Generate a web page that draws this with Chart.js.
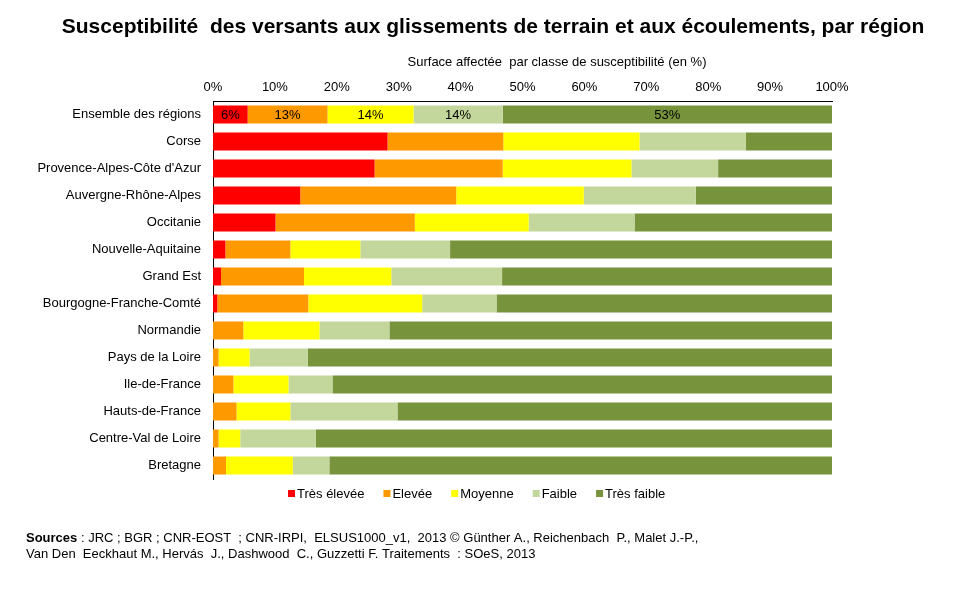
<!DOCTYPE html>
<html>
<head>
<meta charset="utf-8">
<script src="https://cdn.jsdelivr.net/npm/chart.js@4"></script>
<style>
  html, body { margin: 0; padding: 0; background: #fff; }
  #wrap { width: 961px; height: 594px; }
</style>
</head>
<body>
<div id="wrap"><canvas id="chart" width="961" height="594"></canvas></div>
<script>
// Régions (ordre du graphique, de haut en bas)
const regions = [
    'Ensemble des régions', 'Corse', "Provence-Alpes-Côte d'Azur", 'Auvergne-Rhône-Alpes',
    'Occitanie', 'Nouvelle-Aquitaine', 'Grand Est', 'Bourgogne-Franche-Comté', 'Normandie',
    'Pays de la Loire', 'Ile-de-France', 'Hauts-de-France', 'Centre-Val de Loire', 'Bretagne'
];

// Part de la surface par classe de susceptibilité (en %)
const tresElevee = [5.6, 28.2, 26.1, 14.1, 10.1, 2.0, 1.3, 0.7, 0, 0, 0, 0, 0, 0];
const elevee     = [12.9, 18.7, 20.7, 25.2, 22.5, 10.5, 13.4, 14.7, 4.9, 0.9, 3.3, 3.8, 0.9, 2.1];
const moyenne    = [13.9, 22.0, 20.8, 20.6, 18.4, 11.3, 14.1, 18.4, 12.3, 5.0, 8.9, 8.7, 3.5, 10.8];
const faible     = [14.4, 17.2, 14.0, 18.1, 17.1, 14.5, 17.9, 12.0, 11.3, 9.4, 7.1, 17.3, 12.2, 5.9];
const tresFaible = [53.2, 13.9, 18.4, 22.0, 31.9, 61.7, 53.3, 54.2, 71.5, 84.7, 80.7, 70.2, 83.4, 81.2];

const classes = ['Très élevée', 'Elevée', 'Moyenne', 'Faible', 'Très faible'];
const couleurs = ['#FF0000', '#FF9900', '#FFFF00', '#C3D69B', '#77933C'];
const series = [tresElevee, elevee, moyenne, faible, tresFaible];

const FONT = '"Liberation Sans", Arial, sans-serif';

// Titre, légende, sources et étiquettes de la première barre
const decor = {
    id: 'decor',
    afterDraw(chart) {
        const ctx = chart.ctx;
        ctx.save();
        ctx.fillStyle = '#000';

        // titre
        ctx.font = 'bold 21px ' + FONT;
        ctx.textAlign = 'center';
        ctx.textBaseline = 'middle';
        ctx.fillText('Susceptibilité  des versants aux glissements de terrain et aux écoulements, par région', 493, 27);

        // titre de l'axe
        ctx.font = '13px ' + FONT;
        ctx.fillText('Surface affectée  par classe de susceptibilité (en %)', 557, 62);

        // étiquettes sur "Ensemble des régions"
        chart.data.datasets.forEach((ds, i) => {
            const bar = chart.getDatasetMeta(i).data[0];
            const v = ds.data[0];
            if (!bar || !v) return;
            ctx.fillText(Math.round(v) + '%', (bar.x + bar.base) / 2, bar.y + 1);
        });

        // légende
        ctx.textAlign = 'left';
        let x = 288;
        const y = 494;
        chart.data.datasets.forEach(ds => {
            ctx.fillStyle = ds.backgroundColor;
            ctx.fillRect(x, y - 4, 7, 7);
            ctx.fillStyle = '#000';
            ctx.fillText(ds.label, x + 9, y);
            x += 9 + ctx.measureText(ds.label).width + 19;
        });

        // sources
        ctx.textBaseline = 'alphabetic';
        ctx.font = 'bold 13px ' + FONT;
        ctx.fillText('Sources', 26, 542);
        const w = ctx.measureText('Sources').width;
        ctx.font = '13px ' + FONT;
        ctx.fillText(' : JRC ; BGR ; CNR-EOST  ; CNR-IRPI,  ELSUS1000_v1,  2013 © Günther A., Reichenbach  P., Malet J.-P.,', 26 + w, 542);
        ctx.fillText('Van Den  Eeckhaut M., Hervás  J., Dashwood  C., Guzzetti F. Traitements  : SOeS, 2013', 26, 558);
        ctx.restore();
    }
};

new Chart(document.getElementById('chart'), {
    type: 'bar',
    data: {
        labels: regions,
        datasets: classes.map((c, i) => ({
            label: c,
            data: series[i],
            backgroundColor: couleurs[i],
            borderWidth: 0,
            categoryPercentage: 1,
            barPercentage: 0.667
        }))
    },
    options: {
        indexAxis: 'y',
        responsive: false,
        animation: false,
        layout: { padding: { top: 50, bottom: 115, left: 0, right: 129 } },
        plugins: {
            legend: { display: false },
            tooltip: { enabled: false },
            title: { display: false }
        },
        scales: {
            x: {
                stacked: true,
                position: 'top',
                min: 0,
                max: 100,
                grid: { display: false, drawTicks: false },
                border: { display: true, color: '#000', width: 1 },
                ticks: {
                    stepSize: 10,
                    padding: 6,
                    color: '#000',
                    font: { family: FONT, size: 13 },
                    callback: v => v + '%'
                },
                afterFit: s => { s.height = 51; }
            },
            y: {
                stacked: true,
                grid: { display: false, drawTicks: false },
                border: { display: true, color: '#000', width: 1 },
                ticks: {
                    padding: 12,
                    color: '#000',
                    autoSkip: false,
                    font: { family: FONT, size: 13 }
                },
                afterFit: s => { s.width = 213; }
            }
        }
    },
    plugins: [decor]
});
</script>
</body>
</html>
